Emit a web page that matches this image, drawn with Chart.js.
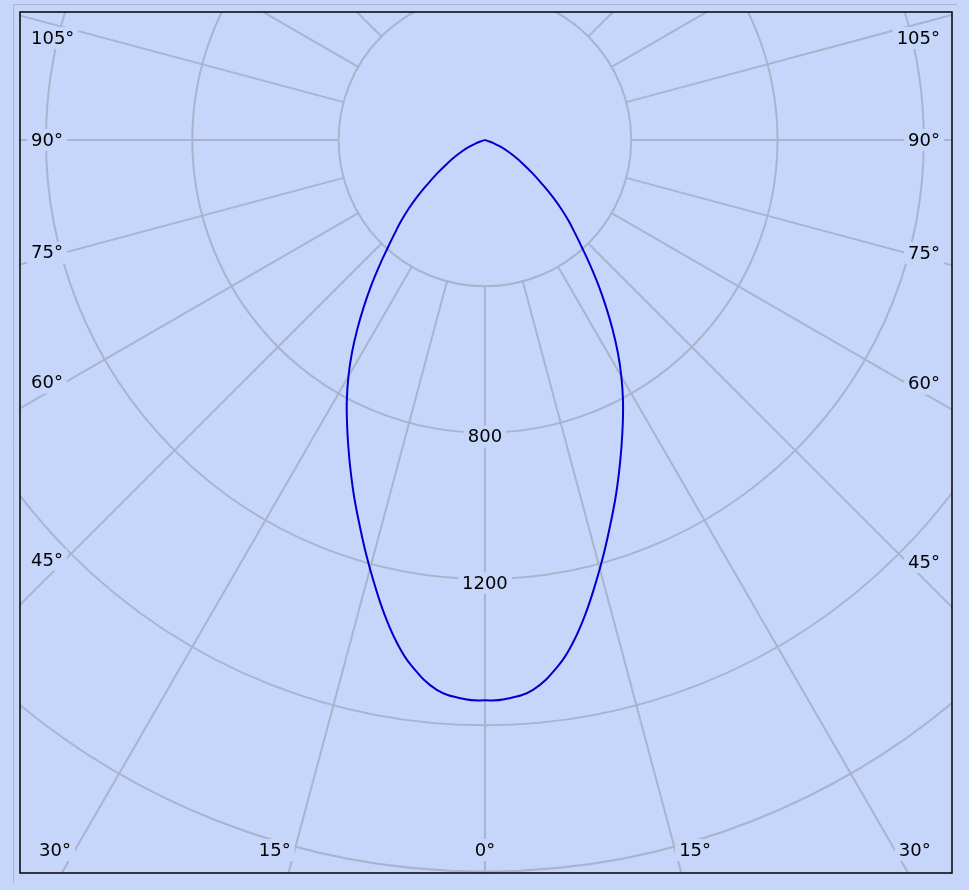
<!DOCTYPE html>
<html>
<head>
<meta charset="utf-8">
<script src="https://cdn.jsdelivr.net/npm/chart.js@4.4.0/dist/chart.umd.min.js"></script>
<style>
  html, body { margin: 0; padding: 0; background: #c5d6fa; }
  canvas { display: block; }
</style>
</head>
<body>
<canvas id="c" width="969" height="890"></canvas>
<script>
// Gamma angles (degrees from nadir) and luminous intensity (cd)
const angles = [0, 2, 5, 8, 10, 12, 14, 16, 18, 20, 22, 24, 26, 28, 30, 32, 34, 36, 38, 40, 42, 44, 46, 48, 50, 52, 55, 58, 61, 64, 67, 70, 72, 74, 76];
const intensityC0 = [1532, 1530, 1509, 1450, 1393, 1324, 1250, 1178, 1108, 1043, 979, 918, 860, 804, 746, 686, 624, 563, 505, 449, 398, 355, 318, 280, 242, 205, 160, 122, 92, 67, 45, 25, 13, 4, 0];
const intensityC180 = [1532, 1530, 1509, 1450, 1393, 1324, 1250, 1178, 1108, 1043, 979, 918, 860, 804, 746, 686, 624, 563, 505, 449, 398, 355, 318, 280, 242, 205, 160, 122, 92, 67, 45, 25, 13, 4, 0];

// Grid definitions
const ringValues = [400, 800, 1200, 1600, 2000, 2400];
const ringLabels = ['800', '1200'];
const spokeStep = 15;
const spokeStart = 400;
const sideAngleLabels = [45, 60, 75, 90, 105];
const bottomAngleLabels = [0, 15, 30];

const BG = '#c5d6fa';
const GRID = '#a8b4cd';
const CURVE = '#0000cc';
const FONT = '18px "DejaVu Sans", Verdana, sans-serif';

const rad = d => d * Math.PI / 180;

// Curve points: left half (C180) from tip down to nadir, then right half (C0) back up to tip
const points = [];
for (let i = angles.length - 1; i >= 1; i--) {
  const a = rad(angles[i]);
  points.push({ x: -intensityC180[i] * Math.sin(a), y: -intensityC180[i] * Math.cos(a) });
}
for (let i = 0; i < angles.length; i++) {
  const a = rad(angles[i]);
  points.push({ x: intensityC0[i] * Math.sin(a), y: -intensityC0[i] * Math.cos(a) });
}

function labelBox(ctx, text, x, y, align) {
  ctx.font = FONT;
  const w = ctx.measureText(text).width;
  let left = x;
  if (align === 'center') left = x - w / 2;
  else if (align === 'right') left = x - w;
  ctx.fillStyle = BG;
  ctx.fillRect(left - 4, y - 11, w + 8, 22);
  ctx.fillStyle = '#000';
  ctx.textAlign = align;
  ctx.textBaseline = 'middle';
  ctx.fillText(text, x, y + 1);
}

const polarGrid = {
  id: 'polarGrid',
  beforeDraw(chart) {
    const ctx = chart.ctx;
    ctx.save();
    ctx.fillStyle = BG;
    ctx.fillRect(0, 0, chart.width, chart.height);
    ctx.strokeStyle = '#aab4cc';
    ctx.lineWidth = 1;
    ctx.beginPath();
    ctx.moveTo(13.5, 883);
    ctx.lineTo(13.5, 4.5);
    ctx.lineTo(957, 4.5);
    ctx.stroke();
    ctx.restore();
  },
  beforeDatasetsDraw(chart) {
    const { ctx, chartArea: a, scales: { x, y } } = chart;
    const cx = x.getPixelForValue(0), cy = y.getPixelForValue(0);
    ctx.save();
    ctx.beginPath();
    ctx.rect(a.left, a.top, a.right - a.left, a.bottom - a.top);
    ctx.clip();
    ctx.strokeStyle = GRID;
    ctx.lineWidth = 2;
    // rings
    ringValues.forEach(v => {
      const r = x.getPixelForValue(v) - cx;
      ctx.beginPath();
      ctx.arc(cx, cy, r, 0, Math.PI * 2);
      ctx.stroke();
    });
    // spokes
    for (let d = 0; d < 360; d += spokeStep) {
      const s = Math.sin(rad(d)), c = Math.cos(rad(d));
      const far = 4000;
      ctx.beginPath();
      ctx.moveTo(x.getPixelForValue(spokeStart * s), y.getPixelForValue(-spokeStart * c));
      ctx.lineTo(x.getPixelForValue(far * s), y.getPixelForValue(-far * c));
      ctx.stroke();
    }
    // ring labels
    ringLabels.forEach(t => {
      const py = y.getPixelForValue(-Number(t));
      labelBox(ctx, t, cx, py + 4, 'center');
    });
    // side angle labels
    const xin = a.left + 45;
    sideAngleLabels.forEach(d => {
      const s = Math.sin(rad(d)), c = Math.cos(rad(d));
      const t = (cx - xin) / s;
      const py = Math.max(cy + t * c, a.top + 26);
      labelBox(ctx, d + '°', a.left + 11, py, 'left');
      const tr = (a.right - 45 - cx) / s;
      const pyr = Math.max(cy + tr * c, a.top + 26);
      labelBox(ctx, d + '°', a.right - 12, pyr, 'right');
    });
    // bottom angle labels
    const ly = a.bottom - 23;
    bottomAngleLabels.forEach(d => {
      if (d === 0) { labelBox(ctx, '0°', cx, ly, 'center'); return; }
      const off = (ly - cy) * Math.tan(rad(d));
      labelBox(ctx, d + '°', cx - off - 4, ly, 'right');
      labelBox(ctx, d + '°', cx + off + 4, ly, 'left');
    });
    ctx.restore();
  },
  afterDraw(chart) {
    const { ctx, chartArea: a } = chart;
    ctx.save();
    ctx.strokeStyle = '#000';
    ctx.lineWidth = 1.5;
    ctx.strokeRect(a.left, a.top, a.right - a.left, a.bottom - a.top);
    ctx.restore();
  }
};

new Chart(document.getElementById('c'), {
  type: 'scatter',
  data: {
    datasets: [{
      data: points,
      showLine: true,
      borderColor: CURVE,
      borderWidth: 2,
      pointRadius: 0,
      tension: 0.4,
      fill: false
    }]
  },
  options: {
    responsive: false,
    animation: false,
    layout: { padding: { left: 20, top: 12, right: 17, bottom: 17 } },
    plugins: { legend: { display: false }, tooltip: { enabled: false } },
    scales: {
      x: { type: 'linear', min: -1271, max: 1277, display: false },
      y: { type: 'linear', min: -2004, max: 350, display: false }
    }
  },
  plugins: [polarGrid]
});
</script>
</body>
</html>
